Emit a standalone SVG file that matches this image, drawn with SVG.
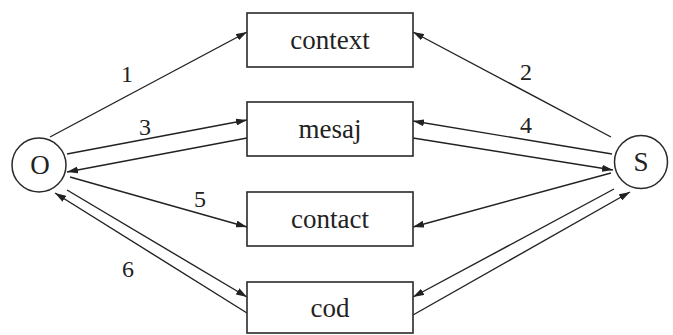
<svg xmlns="http://www.w3.org/2000/svg" width="673" height="335" viewBox="0 0 673 335">
<style>
.box{fill:#fff;stroke:#2a2a2a;stroke-width:1.6}
.circ{fill:#fff;stroke:#2a2a2a;stroke-width:1.5}
.t{font-family:'Liberation Serif', 'Times New Roman', serif;font-size:27px;fill:#222;text-anchor:middle}
.n{font-family:'Liberation Serif', 'Times New Roman', serif;font-size:24px;fill:#222;text-anchor:middle}
.c{stroke:#222;stroke-width:1.4;fill:none;marker-end:url(#ah)}
</style>
<defs>
<marker id="ah" viewBox="0 0 11 7" refX="11" refY="3.5" markerWidth="11" markerHeight="7" markerUnits="userSpaceOnUse" orient="auto">
<path d="M0,0 L11,3.5 L0,7 Z" fill="#222"/>
</marker>
</defs>
<rect width="673" height="335" fill="#fff"/>
<g id="connectors">
<line class="c" x1="50" y1="137" x2="247" y2="32"/>
<line class="c" x1="67" y1="154" x2="247" y2="120"/>
<line class="c" x1="247" y1="138" x2="67" y2="172"/>
<line class="c" x1="70" y1="177" x2="247" y2="227"/>
<line class="c" x1="247" y1="313" x2="55" y2="193"/>
<line class="c" x1="67" y1="190" x2="247" y2="297"/>
<line class="c" x1="611" y1="137" x2="413" y2="32"/>
<line class="c" x1="612" y1="154" x2="413" y2="121"/>
<line class="c" x1="413" y1="138" x2="613" y2="170"/>
<line class="c" x1="611" y1="173" x2="413" y2="227"/>
<line class="c" x1="614" y1="189" x2="413" y2="297"/>
<line class="c" x1="413" y1="315" x2="630" y2="192"/>
<text class="n" x="127" y="82">1</text>
<text class="n" x="526" y="80">2</text>
<text class="n" x="145" y="135">3</text>
<text class="n" x="526" y="133">4</text>
<text class="n" x="200" y="207">5</text>
<text class="n" x="128" y="277">6</text>
</g>
<g id="node-O">
<circle class="circ" cx="39" cy="165" r="27"/>
<text class="t" x="40" y="174">O</text>
</g>
<g id="node-S">
<circle class="circ" cx="641" cy="162" r="26.5"/>
<text class="t" x="641" y="171">S</text>
</g>
<g id="node-context">
<rect class="box" x="247" y="13" width="166" height="54"/>
<text class="t" x="330" y="49">context</text>
</g>
<g id="node-mesaj">
<rect class="box" x="247" y="102" width="166" height="54"/>
<text class="t" x="330" y="138">mesaj</text>
</g>
<g id="node-contact">
<rect class="box" x="247" y="192" width="166" height="54"/>
<text class="t" x="330" y="228">contact</text>
</g>
<g id="node-cod">
<rect class="box" x="247" y="282" width="166" height="51"/>
<text class="t" x="330" y="317">cod</text>
</g>
</svg>
